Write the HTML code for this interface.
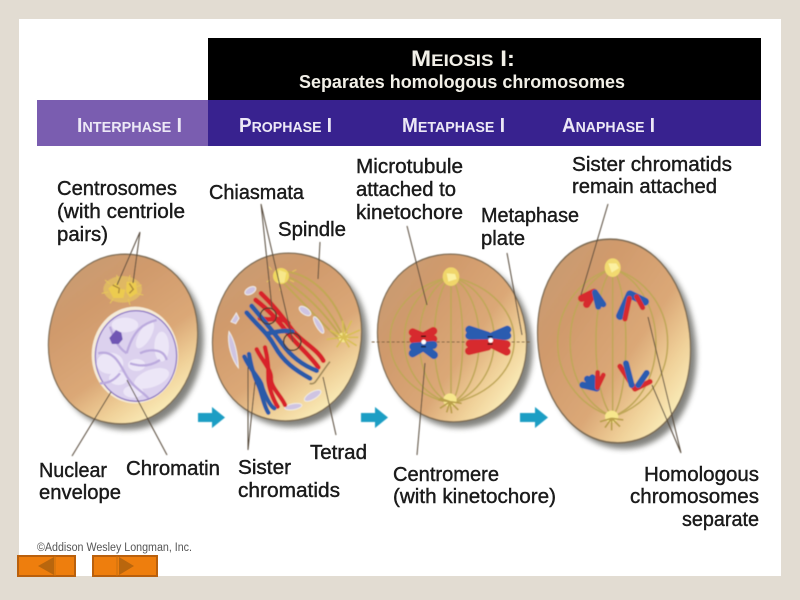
<!DOCTYPE html>
<html><head><meta charset="utf-8"><style>
html,body{margin:0;padding:0;background:#e2dcd2;width:800px;height:600px;overflow:hidden}
svg{display:block}
text{font-family:"Liberation Sans",sans-serif}
.l{font-size:20px;fill:#1a1a1a;stroke:#1a1a1a;stroke-width:.4px}
.h{font-weight:bold;fill:#ece8f6}
.ln{stroke:#55483a;stroke-width:1;fill:none}
.sp{fill:none}
.r{fill:none;stroke:#d8222a;stroke-linecap:round}
.b{fill:none;stroke:#2b5aa8;stroke-linecap:round}
.cell{fill:url(#c);stroke:#7d6c54;stroke-width:.016}
</style></head><body>
<svg width="800" height="600" viewBox="0 0 800 600" xmlns="http://www.w3.org/2000/svg">
<defs>
<linearGradient id="c" x1="0.1" y1="0.1" x2="0.85" y2="0.95">
<stop offset="0" stop-color="#c99b72"/><stop offset=".25" stop-color="#d09a6c"/><stop offset=".6" stop-color="#dba877"/><stop offset=".8" stop-color="#f0d199"/><stop offset="1" stop-color="#fdf3c0"/>
</linearGradient>
<filter id="s" x="-20%" y="-20%" width="140%" height="140%"><feGaussianBlur stdDeviation="3"/></filter>
<filter id="b" x="-5%" y="-5%" width="110%" height="110%"><feGaussianBlur stdDeviation=".55"/></filter>
<filter id="t" x="-5%" y="-20%" width="110%" height="140%"><feGaussianBlur stdDeviation=".35"/></filter>
</defs>
<rect width="800" height="600" fill="#e2dcd2"/>
<rect x="19" y="19" width="762" height="557" fill="#fff"/>
<g filter="url(#t)">
<rect x="208" y="38" width="553" height="62" fill="#000"/>
<rect x="37" y="100" width="171" height="46" fill="#7a5db0"/>
<rect x="208" y="100" width="553" height="46" fill="#39228f"/>
</g>
<!-- shadows -->
<g fill="#757570" filter="url(#s)" opacity=".9">
<path d="M-1 0C-1 -.58 -.58 -1 0 -1S1 -.58 1 0 .58 1 0 1 -1 .58 -1 0Z" transform="translate(129,345) rotate(10) scale(74,85)"/>
<path d="M-1 0C-1 -.58 -.58 -1 0 -1S1 -.58 1 0 .58 1 0 1 -1 .58 -1 0Z" transform="translate(293,343) rotate(10) scale(74,84)"/>
<path d="M-1 0C-1 -.58 -.58 -1 0 -1S1 -.58 1 0 .58 1 0 1 -1 .58 -1 0Z" transform="translate(458,344) rotate(-10) scale(74,84)"/>
<path d="M-1 0C-1 -.58 -.58 -1 0 -1S1 -.58 1 0 .58 1 0 1 -1 .58 -1 0Z" transform="translate(620,347) rotate(-6) scale(76,102)"/>
</g>
<g filter="url(#b)">
<!-- Cell 1 -->
<path class="cell" d="M-1 0C-1 -.58 -.58 -1 0 -1S1 -.58 1 0 .58 1 0 1 -1 .58 -1 0Z" transform="translate(123,339) rotate(10) scale(74,85)"/>
<g transform="translate(30,250) scale(.3333)">
<ellipse cx="278" cy="118" rx="58" ry="40" fill="#e8c860" opacity=".65"/>
<path d="M235 115l25-18 12 20 14 2-6 25-30 0zM290 95l28 2 4 32-22 14-12-18z" fill="#eccb50"/>
<g stroke="#e6c65a" stroke-width="3"><path d="M225 90l15 12M215 130l20-4M240 160l10-14M300 165l-5-18M335 105l-18 6M340 135l-20-4M300 75l-4 18M260 75l6 20"/></g>
<path d="M248 105l20 10-2 15M298 100l12 18-12 12" stroke="#a8863a" stroke-width="4" fill="none"/>
<ellipse cx="315" cy="315" rx="130" ry="145" fill="#f6ecd8"/>
<ellipse cx="318" cy="318" rx="122" ry="136" fill="#dcd1ee" stroke="#8f78c4" stroke-width="4"/>
<g fill="#ece6f7">
<ellipse cx="240" cy="340" rx="40" ry="32"/><ellipse cx="265" cy="385" rx="28" ry="20"/><ellipse cx="320" cy="345" rx="26" ry="18"/>
<ellipse cx="365" cy="385" rx="55" ry="26" transform="rotate(-20 365 385)"/><ellipse cx="345" cy="255" rx="18" ry="45" transform="rotate(30 345 255)"/>
<ellipse cx="395" cy="290" rx="22" ry="45"/><ellipse cx="285" cy="225" rx="40" ry="22"/><ellipse cx="310" cy="425" rx="30" ry="18"/>
</g>
<g fill="none" stroke="#bcaade" stroke-width="7">
<path d="M205 310c40-10 60 20 80 60s60 60 70 75M290 310c20-70 50-90 90-100M330 310c20-10 70-20 80 20M270 370c-20 25-40 30-60 30M300 340c30 10 60 10 90-10M240 230c10 30 20 60 50 80"/>
</g>
<path d="M258 240l16 8 4 20-12 14-20 0-8-18z" fill="#6f56b4"/>
</g>
<!-- Cell 2 -->
<path class="cell" d="M-1 0C-1 -.58 -.58 -1 0 -1S1 -.58 1 0 .58 1 0 1 -1 .58 -1 0Z" transform="translate(287,337) rotate(10) scale(74,84)"/>
<g transform="translate(205,250) scale(.3333)">
<g class="sp" stroke="#c2a755" stroke-width="6">
<path d="M225 75C290 85 360 150 415 260M235 85C280 120 350 170 410 265M230 95C280 140 330 200 405 270M240 65C310 70 390 130 425 250"/>
</g>
<circle cx="228" cy="78" r="24" fill="#f0d860"/><path d="M222 60l22 8-6 30-20 0z" fill="#f7e78a"/>
<g stroke="#e6c65a" stroke-width="3"><path d="M200 60l-8-10M195 90l-10 6M225 110l0 12M255 90l12 6M262 65l12-6"/></g>
<circle cx="415" cy="262" r="15" fill="#f6e78c"/>
<g stroke="#d9bf55" stroke-width="5"><path d="M415 262l50-22M415 262l45 0M415 262l40 25M415 262l18 30M415 262l-50 6M415 262l-40-22M415 262l-20 30M415 262l25-50M415 262l-2-50"/></g>
<g fill="#cfc4e2" stroke="#f0ece4" stroke-width="3">
<path d="M72 245c20 30 26 70 28 108-20-25-34-70-28-108z"/><path d="M78 215l16-26 8 16-10 16z"/>
<ellipse cx="136" cy="122" rx="18" ry="10" transform="rotate(-30 136 122)"/>
<ellipse cx="300" cy="183" rx="20" ry="10" transform="rotate(35 300 183)"/>
<ellipse cx="341" cy="225" rx="28" ry="8" transform="rotate(60 341 225)"/>
<ellipse cx="323" cy="437" rx="28" ry="11" transform="rotate(-30 323 437)"/>
<ellipse cx="265" cy="470" rx="26" ry="9" transform="rotate(-10 265 470)"/>
</g>
<g class="r" stroke-width="14">
<path d="M168 130C210 170 235 205 262 240S335 295 355 332"/>
<path d="M152 150C190 180 215 205 245 245S310 310 340 352"/>
<path d="M165 205C200 215 225 195 250 220"/>
</g>
<g class="b" stroke-width="14">
<path d="M140 168C180 215 205 245 230 280S290 345 335 362"/>
<path d="M125 188C165 235 185 245 210 290S270 360 315 385"/>
<path d="M190 250C215 245 235 240 262 245"/>
</g>
<g fill="none" stroke="#4a3a2a" stroke-width="4">
<circle cx="190" cy="198" r="24"/><circle cx="262" cy="275" r="26"/>
</g>
<path d="M375 335c-8 8-35 50-45 62-5 5-12 5-16 3" fill="none" stroke="#a08a5a" stroke-width="5"/>
<g class="r" stroke-width="13">
<path d="M155 298C170 330 200 360 198 385S230 440 240 465"/>
<path d="M180 292C190 330 190 360 190 385S205 450 218 470"/>
</g>
<g class="b" stroke-width="13">
<path d="M118 320C135 360 165 385 170 405S195 470 208 475"/>
<path d="M132 312C140 360 150 385 160 405S175 465 190 488"/>
</g>
</g>
<!-- Cell 3 -->
<path class="cell" d="M-1 0C-1 -.58 -.58 -1 0 -1S1 -.58 1 0 .58 1 0 1 -1 .58 -1 0Z" transform="translate(452,338) rotate(-10) scale(74,84)"/>
<g transform="translate(365,245) scale(.3333)">
<g class="sp" stroke="#bfa756" stroke-width="4.500">
<path d="M258 95C14 150 14 420 258 475"/>
<path d="M258 95C71 150 71 420 258 475"/>
<path d="M258 95C131 150 131 420 258 475"/>
<path d="M258 95C191 150 191 420 258 475"/>
<path d="M258 95V475"/>
<path d="M258 95C305 150 305 420 258 475"/>
<path d="M258 95C371 150 371 420 258 475"/>
<path d="M258 95C431 150 431 420 258 475"/>
<path d="M258 95C511 150 511 420 258 475"/>
</g>
<ellipse cx="258" cy="95" rx="25" ry="28" fill="#f0d66a"/><path d="M245 85l25 2 5 15-25 8z" fill="#fbf0a0"/>
<ellipse cx="255" cy="465" rx="20" ry="20" fill="#f7e78c"/>
<g stroke="#b99f48" stroke-width="5"><path d="M255 470l-35 -5M255 470l-30 20M255 470l-10 32M255 470l5 35M255 470l25 25M255 470l35 5M255 470l-30-10"/></g>
<path d="M20 291H500" stroke="#7a6040" stroke-width="3" stroke-dasharray="9 6"/>
<g fill="none" stroke-linecap="round" stroke-width="24">
<path d="M143 262L172 274M205 258L180 272M145 284L172 284M205 282L182 284" stroke="#d72a2f"/>
<path d="M143 325L172 308M207 330L180 310M145 305L172 303M205 300L182 302" stroke="#2c5cb0"/>
<path d="M313 254L368 272M427 254L385 272M313 272L368 278M427 272L385 278" stroke="#2c5cb0"/>
<path d="M312 318L368 305M425 320L385 300M314 296L368 295M425 298L385 293" stroke="#d72a2f"/>
</g>
<circle cx="176" cy="291" r="7" fill="#fff"/><circle cx="377" cy="286" r="7" fill="#fff"/>
<path d="M168 274h15M168 305h15M368 275h15M368 297h15" stroke="#111" stroke-width="4"/>
</g>
<!-- Cell 4 -->
<path class="cell" d="M-1 0C-1 -.58 -.58 -1 0 -1S1 -.58 1 0 .58 1 0 1 -1 .58 -1 0Z" transform="translate(614,341) rotate(-6) scale(76,102)"/>
<g transform="translate(530,235) scale(.3333)">
<g class="sp" stroke="#bfa756" stroke-width="4.500">
<path d="M248 100C28 170 28 475 248 545"/>
<path d="M248 100C78 170 78 475 248 545"/>
<path d="M248 100C181 170 181 475 248 545"/>
<path d="M248 100V545"/>
<path d="M248 100C301 170 301 475 248 545"/>
<path d="M248 100C421 170 421 475 248 545"/>
<path d="M248 100C468 170 468 475 248 545"/>
</g>
<ellipse cx="248" cy="98" rx="24" ry="28" fill="#f2da70"/><path d="M235 85l24 0 8 14-22 14z" fill="#fbf0a0"/>
<ellipse cx="245" cy="545" rx="20" ry="18" fill="#f7e78c"/>
<g stroke="#b99f48" stroke-width="5"><path d="M245 550l-35 10M245 550l-20 28M245 550l0 36M245 550l25 25M245 550l35 5"/></g>
<g fill="none" stroke-linecap="round">
<path d="M192 172L155 190M192 172L170 208" stroke="#d72a2f" stroke-width="22"/>
<path d="M195 172L220 208M195 172L205 215" stroke="#2c5cb0" stroke-width="18"/>
<path d="M300 178L270 243M300 178L345 200" stroke="#2c5cb0" stroke-width="24"/>
<path d="M298 190L285 252M320 185L338 218" stroke="#d72a2f" stroke-width="15"/>
<path d="M200 460L158 450M200 460L172 432M200 460L187 428" stroke="#2c5cb0" stroke-width="20"/>
<path d="M202 455L203 412M202 458L220 420" stroke="#d72a2f" stroke-width="14"/>
<path d="M315 462L270 394M315 462L360 440" stroke="#d72a2f" stroke-width="16"/>
<path d="M305 450L288 385M325 450L350 414" stroke="#2c5cb0" stroke-width="18"/>
</g>
</g>
<!-- Leader lines -->
<g class="ln">
<path d="M140 232L117 285M140 232L133 283"/>
<path d="M261 204L272 308M261 204L293 342"/>
<path d="M320 242L318 279"/>
<path d="M336 435L323 377"/>
<path d="M248 450L248 367M248 450L255 382"/>
<path d="M72 456L111 392M167 455L127 380"/>
<path d="M407 226L427 305"/>
<path d="M507 253L522 335"/>
<path d="M608 204L581 295"/>
<path d="M681 453L648 317M681 453L652 385"/>
<path d="M417 455L425 363"/>
</g>
<!-- Arrows -->
<g fill="#1b9ec4">
<path d="M198 413h14v-6l13 10.500-13 10.500v-6h-14z"/>
<path d="M361 413h14v-6l13 10.500-13 10.500v-6h-14z"/>
<path d="M520 413h15v-6l13 10.500-13 10.500v-6h-15z"/>
</g>
</g>
<!-- Text -->
<g filter="url(#t)">
<text class="h" x="411" y="66" textLength="104" lengthAdjust="spacingAndGlyphs" style="font-size:22px;fill:#f2f0e8">M<tspan font-size="17">EIOSIS</tspan> I:</text>
<text class="h" x="299" y="88" textLength="326" lengthAdjust="spacingAndGlyphs" style="font-size:18px;fill:#f2f0e8">Separates homologous chromosomes</text>
<text class="h" x="77" y="132" textLength="105" lengthAdjust="spacingAndGlyphs" style="font-size:20px">I<tspan font-size="15">NTERPHASE</tspan> I</text>
<text class="h" x="239" y="132" textLength="93" lengthAdjust="spacingAndGlyphs" style="font-size:20px">P<tspan font-size="15">ROPHASE</tspan> I</text>
<text class="h" x="402" y="132" textLength="103" lengthAdjust="spacingAndGlyphs" style="font-size:20px">M<tspan font-size="15">ETAPHASE</tspan> I</text>
<text class="h" x="562" y="132" textLength="93" lengthAdjust="spacingAndGlyphs" style="font-size:20px">A<tspan font-size="15">NAPHASE</tspan> I</text>
<text class="l" x="57" y="195" textLength="120" lengthAdjust="spacingAndGlyphs">Centrosomes</text>
<text class="l" x="57" y="218" textLength="128" lengthAdjust="spacingAndGlyphs">(with centriole</text>
<text class="l" x="57" y="241" textLength="51" lengthAdjust="spacingAndGlyphs">pairs)</text>
<text class="l" x="209" y="199" textLength="95" lengthAdjust="spacingAndGlyphs">Chiasmata</text>
<text class="l" x="278" y="236" textLength="68" lengthAdjust="spacingAndGlyphs">Spindle</text>
<text class="l" x="356" y="173" textLength="107" lengthAdjust="spacingAndGlyphs">Microtubule</text>
<text class="l" x="356" y="196" textLength="100" lengthAdjust="spacingAndGlyphs">attached to</text>
<text class="l" x="356" y="219" textLength="107" lengthAdjust="spacingAndGlyphs">kinetochore</text>
<text class="l" x="481" y="222" textLength="98" lengthAdjust="spacingAndGlyphs">Metaphase</text>
<text class="l" x="481" y="245" textLength="44" lengthAdjust="spacingAndGlyphs">plate</text>
<text class="l" x="572" y="171" textLength="160" lengthAdjust="spacingAndGlyphs">Sister chromatids</text>
<text class="l" x="572" y="193" textLength="145" lengthAdjust="spacingAndGlyphs">remain attached</text>
<text class="l" x="39" y="477" textLength="68" lengthAdjust="spacingAndGlyphs">Nuclear</text>
<text class="l" x="39" y="499" textLength="82" lengthAdjust="spacingAndGlyphs">envelope</text>
<text class="l" x="126" y="475" textLength="94" lengthAdjust="spacingAndGlyphs">Chromatin</text>
<text class="l" x="238" y="474" textLength="53" lengthAdjust="spacingAndGlyphs">Sister</text>
<text class="l" x="238" y="497" textLength="102" lengthAdjust="spacingAndGlyphs">chromatids</text>
<text class="l" x="310" y="459" textLength="57" lengthAdjust="spacingAndGlyphs">Tetrad</text>
<text class="l" x="393" y="481" textLength="106" lengthAdjust="spacingAndGlyphs">Centromere</text>
<text class="l" x="393" y="503" textLength="163" lengthAdjust="spacingAndGlyphs">(with kinetochore)</text>
<text class="l" x="644" y="481" textLength="115" lengthAdjust="spacingAndGlyphs">Homologous</text>
<text class="l" x="630" y="503" textLength="129" lengthAdjust="spacingAndGlyphs">chromosomes</text>
<text class="l" x="682" y="526" textLength="77" lengthAdjust="spacingAndGlyphs">separate</text>
<text x="37" y="551" textLength="155" lengthAdjust="spacingAndGlyphs" style="font-size:11.500px;fill:#555">©Addison Wesley Longman, Inc.</text>
</g>
<!-- Buttons -->
<g filter="url(#t)">
<rect x="18" y="556" width="57" height="20" fill="#ee7e0b" stroke="#b9610f" stroke-width="2"/>
<path d="M38 566l16-9v18z" fill="#b9660f"/><path d="M55 556v20" stroke="#c9700f"/>
<rect x="93" y="556" width="64" height="20" fill="#ee7e0b" stroke="#b9610f" stroke-width="2"/>
<path d="M134 566l-15-9v18z" fill="#b9660f"/><path d="M117 556v20" stroke="#c9700f"/>
</g>
</svg>
</body></html>
